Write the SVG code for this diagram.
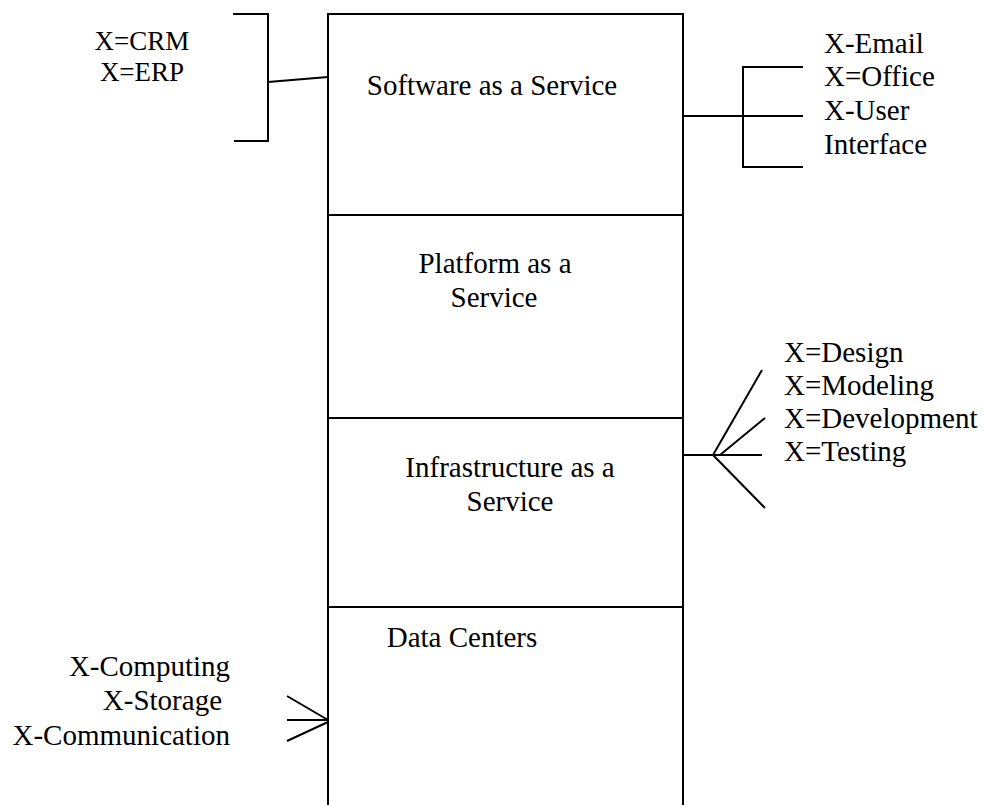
<svg xmlns="http://www.w3.org/2000/svg" width="984" height="805" viewBox="0 0 984 805">
<style>
.box{fill:none;stroke:#000;stroke-width:2}
.ln{fill:none;stroke:#000;stroke-width:2}
.c{text-anchor:middle}
.r{text-anchor:end}
.t{font-family:"Liberation Serif","Times New Roman",serif;font-size:29px;fill:#000}
.s{font-size:27px}
</style>
<rect width="984" height="805" fill="#fff"/>
<g class="t">
<g id="saas">
<rect class="box" x="328" y="14" width="355" height="201"/>
<text x="492" y="95" class="c">Software as a Service</text>
</g>
<g id="paas">
<rect class="box" x="328" y="215" width="355" height="203"/>
<text x="495" y="273" class="c">Platform as a</text>
<text x="494" y="307" class="c">Service</text>
</g>
<g id="iaas">
<rect class="box" x="328" y="418" width="355" height="189"/>
<text x="510" y="477" class="c">Infrastructure as a</text>
<text x="510" y="511" class="c">Service</text>
</g>
<g id="dc">
<rect class="box" x="328" y="607" width="355" height="210"/>
<text x="462" y="647" class="c">Data Centers</text>
</g>
<g id="saas-left-labels">
<text x="142" y="50" class="c s">X=CRM</text>
<text x="142" y="81" class="c s">X=ERP</text>
</g>
<g id="saas-right-labels">
<text x="824" y="53">X-Email</text>
<text x="824" y="86">X=Office</text>
<text x="824" y="120">X-User</text>
<text x="824" y="154">Interface</text>
</g>
<g id="iaas-labels">
<text x="784" y="362">X=Design</text>
<text x="784" y="395">X=Modeling</text>
<text x="784" y="428">X=Development</text>
<text x="784" y="461">X=Testing</text>
</g>
<g id="dc-labels">
<text x="230" y="676" class="r">X-Computing</text>
<text x="222" y="710" class="r">X-Storage</text>
<text x="230" y="745" class="r">X-Communication</text>
</g>
</g>
<g id="connectors">
<path class="ln" d="M233 14H268V141H234"/>
<path class="ln" d="M268 82L328 77"/>
<path class="ln" d="M683 116H743"/>
<path class="ln" d="M803 67H743V167H803M743 116H803"/>
<path class="ln" d="M683 455H713"/>
<path class="ln" d="M713 455L762 370M720 455L765 418M713 455H762M713 455L765 508"/>
<path class="ln" d="M287 696L328 720M287 720H328M287 741L328 722"/>
</g>
</svg>
